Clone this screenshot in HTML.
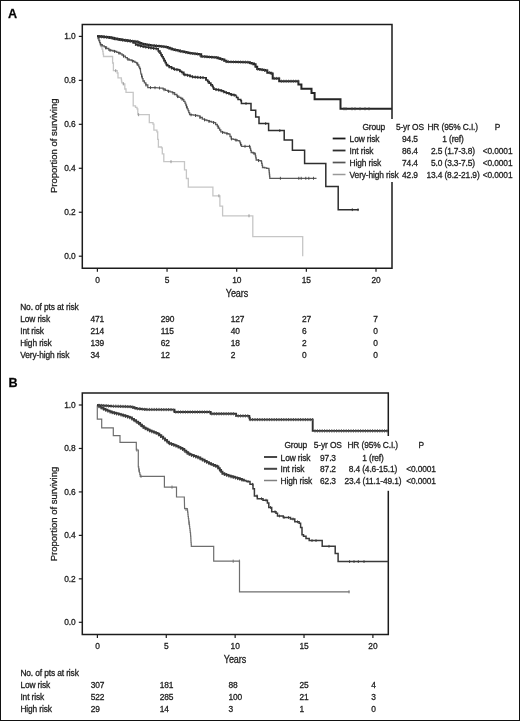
<!DOCTYPE html>
<html><head><meta charset="utf-8"><title>Survival curves</title>
<style>
html,body{margin:0;padding:0;background:#fff;}
.frame{position:relative;width:520px;height:721px;box-sizing:border-box;border:1px solid #111;border-bottom-width:1.5px;overflow:hidden;background:#fff;}
.frame svg{position:absolute;left:-1px;top:-1px;}
</style></head><body><div class="frame">
<svg width="520" height="721" viewBox="0 0 520 721" font-family='"Liberation Sans", Arial, Helvetica, sans-serif' fill="#1a1a1a" stroke-linecap="butt"><style>text{stroke:#222;stroke-width:0.28px;letter-spacing:-0.12px;}</style><text x="8" y="17.6" text-anchor="start" font-size="12.6" font-weight="bold" fill="#000">A</text><text x="8.4" y="386.8" text-anchor="start" font-size="12.6" font-weight="bold" fill="#000">B</text><path d="M82.3,24.5 H392 V268.3 H82.3 Z" fill="none" stroke="#1c1c1c" stroke-width="1.5"/><line x1="78.8" y1="256.2" x2="82.3" y2="256.2" stroke="#1c1c1c" stroke-width="1.2"/><text x="75.6" y="259.2" text-anchor="end" font-size="8.4" >0.0</text><line x1="78.8" y1="212.23999999999998" x2="82.3" y2="212.23999999999998" stroke="#1c1c1c" stroke-width="1.2"/><text x="75.6" y="215.23999999999998" text-anchor="end" font-size="8.4" >0.2</text><line x1="78.8" y1="168.27999999999997" x2="82.3" y2="168.27999999999997" stroke="#1c1c1c" stroke-width="1.2"/><text x="75.6" y="171.27999999999997" text-anchor="end" font-size="8.4" >0.4</text><line x1="78.8" y1="124.32" x2="82.3" y2="124.32" stroke="#1c1c1c" stroke-width="1.2"/><text x="75.6" y="127.32" text-anchor="end" font-size="8.4" >0.6</text><line x1="78.8" y1="80.35999999999996" x2="82.3" y2="80.35999999999996" stroke="#1c1c1c" stroke-width="1.2"/><text x="75.6" y="83.35999999999996" text-anchor="end" font-size="8.4" >0.8</text><line x1="78.8" y1="36.39999999999998" x2="82.3" y2="36.39999999999998" stroke="#1c1c1c" stroke-width="1.2"/><text x="75.6" y="39.39999999999998" text-anchor="end" font-size="8.4" >1.0</text><line x1="97.4" y1="268.3" x2="97.4" y2="271.8" stroke="#1c1c1c" stroke-width="1.2"/><text x="97.4" y="283.3" text-anchor="middle" font-size="8.4" >0</text><line x1="167.05" y1="268.3" x2="167.05" y2="271.8" stroke="#1c1c1c" stroke-width="1.2"/><text x="167.05" y="283.3" text-anchor="middle" font-size="8.4" >5</text><line x1="236.70000000000002" y1="268.3" x2="236.70000000000002" y2="271.8" stroke="#1c1c1c" stroke-width="1.2"/><text x="236.70000000000002" y="283.3" text-anchor="middle" font-size="8.4" >10</text><line x1="306.35" y1="268.3" x2="306.35" y2="271.8" stroke="#1c1c1c" stroke-width="1.2"/><text x="306.35" y="283.3" text-anchor="middle" font-size="8.4" >15</text><line x1="376.0" y1="268.3" x2="376.0" y2="271.8" stroke="#1c1c1c" stroke-width="1.2"/><text x="376.0" y="283.3" text-anchor="middle" font-size="8.4" >20</text><polyline points="97.0,36.3 98.1,36.3 98.1,38.5 98.9,38.5 98.9,40.6 99.7,40.6 99.7,42.7 100.4,42.7 100.4,44.8 101.2,44.8 101.2,46.9 102.0,46.9 102.0,49.2 102.7,49.2 102.7,51.5 103.1,51.5 103.1,54.0 103.5,54.0 103.5,56.5 112.6,56.5 112.6,63.0 113.4,63.0 113.4,70.7 117.2,70.7 117.2,73.0 118.0,73.0 118.0,77.8 121.0,77.8 121.3,77.8 121.3,79.5 121.5,79.5 121.5,81.2 121.8,81.2 121.8,82.9 123.3,82.9 123.3,83.9 124.8,83.9 124.8,84.9 124.8,89.0 126.0,89.0 126.0,92.4 133.2,92.4 133.2,105.8 135.5,105.8 135.5,107.3 137.0,107.3 137.0,108.9 137.8,108.9 137.8,114.7 149.3,114.7 149.3,122.6 153.0,122.6 153.0,124.1 153.9,124.1 153.9,130.2 156.9,130.2 156.9,131.8 157.7,131.8 157.7,139.4 158.4,139.4 158.4,147.0 161.5,147.0 161.5,147.8 162.3,147.8 162.3,153.9 163.8,153.9 163.8,161.7 184.5,161.7 184.5,169.8 186.4,169.8 186.4,178.5 188.3,178.5 188.3,187.1 212.9,187.1 212.9,195.8 219.9,195.8 219.9,206.2 222.6,206.2 222.6,215.8 252.8,215.8 252.8,236.6 302.7,236.6 302.7,256.3" fill="none" stroke="#c6c6c6" stroke-width="1.3" stroke-linejoin="miter" /><line x1="115.7" y1="69.2" x2="115.7" y2="72.2" stroke="#999" stroke-width="1.0"/><line x1="123.3" y1="82.4" x2="123.3" y2="85.4" stroke="#999" stroke-width="1.0"/><line x1="138.6" y1="113.2" x2="138.6" y2="116.2" stroke="#999" stroke-width="1.0"/><line x1="171.0" y1="160.2" x2="171.0" y2="163.2" stroke="#999" stroke-width="1.0"/><line x1="218.9" y1="194.3" x2="218.9" y2="197.3" stroke="#999" stroke-width="1.0"/><line x1="249.0" y1="214.3" x2="249.0" y2="217.3" stroke="#999" stroke-width="1.0"/><polyline points="97.0,36.3 98.1,36.3 98.1,38.5 98.9,38.5 98.9,40.5 99.6,40.5 99.6,42.6 100.4,42.6 100.4,44.6 102.3,44.6 102.3,45.8 104.2,45.8 104.2,46.9 106.5,46.9 106.5,48.5 108.8,48.5 108.8,50.0 110.9,50.0 110.9,50.5 112.9,50.5 112.9,51.0 115.0,51.0 115.0,51.5 116.8,51.5 116.8,52.3 118.6,52.3 118.6,53.0 120.4,53.0 120.4,53.8 122.0,53.8 122.0,55.0 123.5,55.0 123.5,56.2 125.4,56.2 125.4,57.7 127.3,57.7 127.3,59.2 129.4,59.2 129.4,60.0 131.4,60.0 131.4,60.7 133.5,60.7 133.5,61.5 135.0,61.5 135.0,62.3 136.5,62.3 136.5,63.1 137.7,63.1 137.7,65.0 138.8,65.0 138.8,66.9 139.6,66.9 139.6,68.5 140.4,68.5 140.4,70.0 141.0,74.2 141.7,74.2 141.7,76.5 142.3,76.5 142.3,78.7 143.0,78.7 143.0,81.0 144.4,81.0 144.4,82.9 145.8,82.9 145.8,84.8 147.8,84.8 147.8,87.5 155.5,87.7 160.8,88.1 163.1,88.1 163.1,89.2 165.4,89.2 165.4,90.4 167.7,90.4 167.7,91.2 170.0,91.2 170.0,91.9 172.3,91.9 172.3,92.7 174.6,92.7 174.6,94.5 176.9,94.5 176.9,96.2 178.8,96.2 178.8,97.3 180.8,97.3 180.8,98.5 182.7,98.5 182.7,99.6 183.8,99.6 183.8,101.3 185.0,101.3 185.0,103.1 185.8,103.1 185.8,105.0 186.5,105.0 186.5,106.9 187.3,106.9 187.3,108.8 188.1,108.8 188.1,110.7 188.8,110.7 188.8,112.7 189.6,112.7 189.6,114.6 191.6,114.6 191.6,114.9 193.6,114.9 193.6,115.2 195.7,115.2 195.7,115.5 197.7,115.5 197.7,115.8 200.0,115.8 200.0,117.5 202.3,117.5 202.3,119.2 204.6,119.2 204.6,120.0 206.9,120.0 206.9,120.7 209.2,120.7 209.2,121.5 211.5,121.5 211.5,122.1 213.8,122.1 213.8,122.7 215.6,122.7 215.6,124.5 217.3,124.5 217.3,126.2 218.5,126.2 218.5,128.1 219.6,128.1 219.6,130.0 220.8,130.0 220.8,131.9 222.8,131.9 222.8,132.5 224.8,132.5 224.8,133.1 226.8,133.1 226.8,133.6 228.8,133.6 228.8,134.2 230.0,134.2 230.0,136.5 231.2,136.5 231.2,138.8 233.2,138.8 233.2,139.4 235.2,139.4 235.2,140.0 237.2,140.0 237.2,140.6 239.2,140.6 239.2,141.2 240.0,141.2 240.0,142.9 240.7,142.9 240.7,144.6 241.5,144.6 241.5,146.3 249.5,146.3 250.1,146.3 250.1,148.4 250.6,148.4 250.6,150.4 251.2,150.4 251.2,152.5 253.1,152.5 253.1,153.2 255.0,153.2 255.0,153.8 255.4,153.8 255.4,155.9 255.8,155.9 255.8,157.9 256.2,157.9 256.2,160.0 258.7,160.0 258.7,160.7 261.2,160.7 261.2,161.3 261.6,161.3 261.6,163.4 262.1,163.4 262.1,165.4 262.5,165.4 262.5,167.5 264.6,167.5 264.6,167.9 266.7,167.9 266.7,168.4 268.8,168.4 268.8,168.8 269.0,168.8 269.0,170.7 269.2,170.7 269.2,172.6 269.4,172.6 269.4,174.5 269.6,174.5 269.6,176.4 269.8,176.4 269.8,178.3 316.5,178.3" fill="none" stroke="#5a5a5a" stroke-width="1.3" stroke-linejoin="miter" /><line x1="101.0" y1="43.5" x2="101.0" y2="46.5" stroke="#444" stroke-width="0.9"/><line x1="105.5" y1="46.3" x2="105.5" y2="49.3" stroke="#444" stroke-width="0.9"/><line x1="110.0" y1="48.8" x2="110.0" y2="51.8" stroke="#444" stroke-width="0.9"/><line x1="114.5" y1="49.9" x2="114.5" y2="52.9" stroke="#444" stroke-width="0.9"/><line x1="119.0" y1="51.7" x2="119.0" y2="54.7" stroke="#444" stroke-width="0.9"/><line x1="123.5" y1="54.7" x2="123.5" y2="57.7" stroke="#444" stroke-width="0.9"/><line x1="128.0" y1="58.0" x2="128.0" y2="61.0" stroke="#444" stroke-width="0.9"/><line x1="132.5" y1="59.6" x2="132.5" y2="62.6" stroke="#444" stroke-width="0.9"/><line x1="137.0" y1="62.4" x2="137.0" y2="65.4" stroke="#444" stroke-width="0.9"/><line x1="141.5" y1="74.4" x2="141.5" y2="77.4" stroke="#444" stroke-width="0.9"/><line x1="146.0" y1="83.6" x2="146.0" y2="86.6" stroke="#444" stroke-width="0.9"/><line x1="150.5" y1="86.1" x2="150.5" y2="89.1" stroke="#444" stroke-width="0.9"/><line x1="155.0" y1="86.2" x2="155.0" y2="89.2" stroke="#444" stroke-width="0.9"/><line x1="159.5" y1="86.5" x2="159.5" y2="89.5" stroke="#444" stroke-width="0.9"/><line x1="164.0" y1="88.2" x2="164.0" y2="91.2" stroke="#444" stroke-width="0.9"/><line x1="168.5" y1="89.9" x2="168.5" y2="92.9" stroke="#444" stroke-width="0.9"/><line x1="173.0" y1="91.7" x2="173.0" y2="94.7" stroke="#444" stroke-width="0.9"/><line x1="177.5" y1="95.1" x2="177.5" y2="98.1" stroke="#444" stroke-width="0.9"/><line x1="182.0" y1="97.7" x2="182.0" y2="100.7" stroke="#444" stroke-width="0.9"/><line x1="186.5" y1="105.3" x2="186.5" y2="108.3" stroke="#444" stroke-width="0.9"/><line x1="191.0" y1="113.3" x2="191.0" y2="116.3" stroke="#444" stroke-width="0.9"/><line x1="195.5" y1="114.0" x2="195.5" y2="117.0" stroke="#444" stroke-width="0.9"/><line x1="200.0" y1="116.0" x2="200.0" y2="119.0" stroke="#444" stroke-width="0.9"/><line x1="204.5" y1="118.4" x2="204.5" y2="121.4" stroke="#444" stroke-width="0.9"/><line x1="209.0" y1="119.9" x2="209.0" y2="122.9" stroke="#444" stroke-width="0.9"/><line x1="213.5" y1="121.1" x2="213.5" y2="124.1" stroke="#444" stroke-width="0.9"/><line x1="218.0" y1="125.8" x2="218.0" y2="128.8" stroke="#444" stroke-width="0.9"/><line x1="222.5" y1="130.9" x2="222.5" y2="133.9" stroke="#444" stroke-width="0.9"/><line x1="227.0" y1="132.2" x2="227.0" y2="135.2" stroke="#444" stroke-width="0.9"/><line x1="231.5" y1="137.4" x2="231.5" y2="140.4" stroke="#444" stroke-width="0.9"/><line x1="236.0" y1="138.7" x2="236.0" y2="141.7" stroke="#444" stroke-width="0.9"/><line x1="240.5" y1="142.6" x2="240.5" y2="145.6" stroke="#444" stroke-width="0.9"/><line x1="245.0" y1="144.8" x2="245.0" y2="147.8" stroke="#444" stroke-width="0.9"/><line x1="249.5" y1="144.8" x2="249.5" y2="147.8" stroke="#444" stroke-width="0.9"/><line x1="254.0" y1="152.0" x2="254.0" y2="155.0" stroke="#444" stroke-width="0.9"/><line x1="258.5" y1="159.1" x2="258.5" y2="162.1" stroke="#444" stroke-width="0.9"/><line x1="280.4" y1="176.8" x2="280.4" y2="179.8" stroke="#444" stroke-width="0.9"/><line x1="298.8" y1="176.8" x2="298.8" y2="179.8" stroke="#444" stroke-width="0.9"/><line x1="301.2" y1="176.8" x2="301.2" y2="179.8" stroke="#444" stroke-width="0.9"/><line x1="305.8" y1="176.8" x2="305.8" y2="179.8" stroke="#444" stroke-width="0.9"/><line x1="308.8" y1="176.8" x2="308.8" y2="179.8" stroke="#444" stroke-width="0.9"/><line x1="313.5" y1="176.8" x2="313.5" y2="179.8" stroke="#444" stroke-width="0.9"/><polyline points="97.0,36.3 98.8,36.3 98.8,36.4 100.6,36.4 100.6,36.6 102.4,36.6 102.4,36.8 104.2,36.8 104.2,36.9 106.0,36.9 106.0,37.1 107.7,37.1 107.7,37.3 109.5,37.3 109.5,37.5 111.2,37.5 111.2,37.7 113.5,37.7 113.5,38.5 115.3,38.5 115.3,38.8 117.2,38.8 117.2,39.1 119.0,39.1 119.0,39.4 120.9,39.4 120.9,39.7 122.7,39.7 122.7,40.0 124.5,40.0 124.5,40.3 126.4,40.3 126.4,40.6 128.2,40.6 128.2,40.9 130.1,40.9 130.1,41.2 131.9,41.2 131.9,41.5 133.9,41.5 133.9,43.0 135.8,43.0 135.8,44.6 137.6,44.6 137.6,45.1 139.4,45.1 139.4,45.7 141.2,45.7 141.2,46.2 143.1,46.2 143.1,46.6 145.0,46.6 145.0,47.0 146.9,47.0 146.9,47.3 148.8,47.3 148.8,47.7 150.7,47.7 150.7,48.0 152.7,48.0 152.7,48.2 154.6,48.2 154.6,48.5 156.5,48.5 156.5,48.8 158.2,48.8 158.2,51.0 160.0,51.0 160.0,53.1 161.0,53.1 161.0,54.9 162.1,54.9 162.1,56.7 163.1,56.7 163.1,58.5 164.1,58.5 164.1,60.5 165.2,60.5 165.2,62.6 166.2,62.6 166.2,64.6 167.7,64.6 167.7,65.8 169.2,65.8 169.2,66.9 171.5,66.9 171.5,68.1 173.8,68.1 173.8,69.2 176.2,69.2 176.2,69.6 178.5,69.6 178.5,70.0 180.0,70.0 180.0,71.2 181.5,71.2 181.5,72.3 183.8,72.3 183.8,74.6 185.8,74.6 185.8,75.0 187.7,75.0 187.7,75.4 190.0,75.4 190.0,76.2 192.3,76.2 192.3,76.9 198.5,77.4 204.6,77.7 206.2,77.7 206.2,80.0 207.7,80.0 207.7,81.5 209.2,81.5 209.2,83.1 210.8,83.1 210.8,84.7 212.3,84.7 212.3,86.2 213.1,86.2 213.1,87.7 213.8,87.7 213.8,89.2 216.2,89.2 216.2,89.6 218.5,89.6 218.5,90.0 220.0,90.0 220.0,90.4 221.5,90.4 221.5,90.8 223.1,90.8 223.1,91.5 224.6,91.5 224.6,92.3 226.1,92.3 226.1,92.7 227.7,92.7 227.7,93.1 229.2,93.1 229.2,93.8 230.8,93.8 230.8,94.6 233.1,94.6 233.1,95.0 235.4,95.0 235.4,95.4 236.5,95.4" fill="none" stroke="#2e2e2e" stroke-width="1.6" stroke-linejoin="miter" /><line x1="99.0" y1="35.0" x2="99.0" y2="38.0" stroke="#2e2e2e" stroke-width="1.0"/><line x1="101.6" y1="35.2" x2="101.6" y2="38.2" stroke="#2e2e2e" stroke-width="1.0"/><line x1="104.2" y1="35.4" x2="104.2" y2="38.4" stroke="#2e2e2e" stroke-width="1.0"/><line x1="106.8" y1="35.7" x2="106.8" y2="38.7" stroke="#2e2e2e" stroke-width="1.0"/><line x1="109.4" y1="36.0" x2="109.4" y2="39.0" stroke="#2e2e2e" stroke-width="1.0"/><line x1="112.0" y1="36.5" x2="112.0" y2="39.5" stroke="#2e2e2e" stroke-width="1.0"/><line x1="114.6" y1="37.2" x2="114.6" y2="40.2" stroke="#2e2e2e" stroke-width="1.0"/><line x1="117.2" y1="37.6" x2="117.2" y2="40.6" stroke="#2e2e2e" stroke-width="1.0"/><line x1="119.8" y1="38.0" x2="119.8" y2="41.0" stroke="#2e2e2e" stroke-width="1.0"/><line x1="122.4" y1="38.5" x2="122.4" y2="41.5" stroke="#2e2e2e" stroke-width="1.0"/><line x1="125.0" y1="38.9" x2="125.0" y2="41.9" stroke="#2e2e2e" stroke-width="1.0"/><line x1="127.6" y1="39.3" x2="127.6" y2="42.3" stroke="#2e2e2e" stroke-width="1.0"/><line x1="130.2" y1="39.7" x2="130.2" y2="42.7" stroke="#2e2e2e" stroke-width="1.0"/><line x1="132.8" y1="40.7" x2="132.8" y2="43.7" stroke="#2e2e2e" stroke-width="1.0"/><line x1="135.4" y1="42.8" x2="135.4" y2="45.8" stroke="#2e2e2e" stroke-width="1.0"/><line x1="138.0" y1="43.8" x2="138.0" y2="46.8" stroke="#2e2e2e" stroke-width="1.0"/><line x1="140.6" y1="44.5" x2="140.6" y2="47.5" stroke="#2e2e2e" stroke-width="1.0"/><line x1="143.2" y1="45.1" x2="143.2" y2="48.1" stroke="#2e2e2e" stroke-width="1.0"/><line x1="145.8" y1="45.6" x2="145.8" y2="48.6" stroke="#2e2e2e" stroke-width="1.0"/><line x1="148.4" y1="46.1" x2="148.4" y2="49.1" stroke="#2e2e2e" stroke-width="1.0"/><line x1="151.0" y1="46.5" x2="151.0" y2="49.5" stroke="#2e2e2e" stroke-width="1.0"/><line x1="153.6" y1="46.9" x2="153.6" y2="49.9" stroke="#2e2e2e" stroke-width="1.0"/><line x1="156.2" y1="47.3" x2="156.2" y2="50.3" stroke="#2e2e2e" stroke-width="1.0"/><line x1="158.8" y1="50.1" x2="158.8" y2="53.1" stroke="#2e2e2e" stroke-width="1.0"/><line x1="161.4" y1="54.0" x2="161.4" y2="57.0" stroke="#2e2e2e" stroke-width="1.0"/><line x1="164.0" y1="58.8" x2="164.0" y2="61.8" stroke="#2e2e2e" stroke-width="1.0"/><line x1="166.6" y1="63.4" x2="166.6" y2="66.4" stroke="#2e2e2e" stroke-width="1.0"/><line x1="169.2" y1="65.4" x2="169.2" y2="68.4" stroke="#2e2e2e" stroke-width="1.0"/><line x1="171.8" y1="66.7" x2="171.8" y2="69.7" stroke="#2e2e2e" stroke-width="1.0"/><line x1="174.4" y1="67.8" x2="174.4" y2="70.8" stroke="#2e2e2e" stroke-width="1.0"/><line x1="177.0" y1="68.2" x2="177.0" y2="71.2" stroke="#2e2e2e" stroke-width="1.0"/><line x1="179.6" y1="69.3" x2="179.6" y2="72.3" stroke="#2e2e2e" stroke-width="1.0"/><line x1="182.2" y1="71.5" x2="182.2" y2="74.5" stroke="#2e2e2e" stroke-width="1.0"/><line x1="184.8" y1="73.3" x2="184.8" y2="76.3" stroke="#2e2e2e" stroke-width="1.0"/><line x1="187.4" y1="73.8" x2="187.4" y2="76.8" stroke="#2e2e2e" stroke-width="1.0"/><line x1="190.0" y1="74.6" x2="190.0" y2="77.6" stroke="#2e2e2e" stroke-width="1.0"/><line x1="192.6" y1="75.4" x2="192.6" y2="78.4" stroke="#2e2e2e" stroke-width="1.0"/><line x1="195.2" y1="75.6" x2="195.2" y2="78.6" stroke="#2e2e2e" stroke-width="1.0"/><line x1="197.8" y1="75.8" x2="197.8" y2="78.8" stroke="#2e2e2e" stroke-width="1.0"/><line x1="200.4" y1="76.0" x2="200.4" y2="79.0" stroke="#2e2e2e" stroke-width="1.0"/><line x1="203.0" y1="76.1" x2="203.0" y2="79.1" stroke="#2e2e2e" stroke-width="1.0"/><line x1="205.6" y1="77.6" x2="205.6" y2="80.6" stroke="#2e2e2e" stroke-width="1.0"/><line x1="208.2" y1="80.6" x2="208.2" y2="83.6" stroke="#2e2e2e" stroke-width="1.0"/><line x1="210.8" y1="83.2" x2="210.8" y2="86.2" stroke="#2e2e2e" stroke-width="1.0"/><line x1="213.4" y1="86.9" x2="213.4" y2="89.9" stroke="#2e2e2e" stroke-width="1.0"/><line x1="216.0" y1="88.1" x2="216.0" y2="91.1" stroke="#2e2e2e" stroke-width="1.0"/><line x1="218.6" y1="88.5" x2="218.6" y2="91.5" stroke="#2e2e2e" stroke-width="1.0"/><line x1="221.2" y1="89.2" x2="221.2" y2="92.2" stroke="#2e2e2e" stroke-width="1.0"/><line x1="223.8" y1="90.4" x2="223.8" y2="93.4" stroke="#2e2e2e" stroke-width="1.0"/><line x1="226.4" y1="91.3" x2="226.4" y2="94.3" stroke="#2e2e2e" stroke-width="1.0"/><line x1="229.0" y1="92.2" x2="229.0" y2="95.2" stroke="#2e2e2e" stroke-width="1.0"/><line x1="231.6" y1="93.2" x2="231.6" y2="96.2" stroke="#2e2e2e" stroke-width="1.0"/><line x1="234.2" y1="93.7" x2="234.2" y2="96.7" stroke="#2e2e2e" stroke-width="1.0"/><polyline points="236.5,95.4 236.5,97.4 238.0,97.4 238.0,99.4 240.8,99.4 240.8,100.8 241.4,100.8 241.4,103.5 251.0,103.5 251.0,110.2 255.7,110.2 255.7,116.9 259.0,116.9 259.0,123.6 268.6,123.6 268.6,130.6 284.2,130.6 284.2,140.0 292.4,140.0 292.4,150.2 304.6,150.2 304.6,163.5 325.8,163.5 325.8,186.5 338.2,186.5 338.2,209.7 358.8,209.7" fill="none" stroke="#2e2e2e" stroke-width="1.5" stroke-linejoin="miter" /><line x1="246.0" y1="102.1" x2="246.0" y2="104.9" stroke="#2e2e2e" stroke-width="0.9"/><line x1="265.7" y1="122.2" x2="265.7" y2="125.0" stroke="#2e2e2e" stroke-width="0.9"/><line x1="279.8" y1="129.2" x2="279.8" y2="132.0" stroke="#2e2e2e" stroke-width="0.9"/><line x1="352.3" y1="208.3" x2="352.3" y2="211.1" stroke="#2e2e2e" stroke-width="0.9"/><line x1="358.0" y1="208.3" x2="358.0" y2="211.1" stroke="#2e2e2e" stroke-width="0.9"/><polyline points="97.0,36.3 98.8,36.3 98.8,36.4 100.6,36.4 100.6,36.6 102.4,36.6 102.4,36.8 104.2,36.8 104.2,36.9 106.0,36.9 106.0,37.1 107.7,37.1 107.7,37.3 109.5,37.3 109.5,37.5 111.2,37.5 111.2,37.7 113.5,37.7 113.5,38.5 115.3,38.5 115.3,38.8 117.2,38.8 117.2,39.1 119.0,39.1 119.0,39.4 120.9,39.4 120.9,39.7 122.7,39.7 122.7,40.0 124.5,40.0 124.5,40.2 126.4,40.2 126.4,40.4 128.2,40.4 128.2,40.7 130.1,40.7 130.1,40.9 131.9,40.9 131.9,41.1 135.8,41.5 137.6,41.5 137.6,42.3 139.4,42.3 139.4,43.0 141.2,43.0 141.2,43.8 143.0,43.8 143.0,44.1 144.9,44.1 144.9,44.4 146.7,44.4 146.7,44.8 148.6,44.8 148.6,45.1 150.4,45.1 150.4,45.4 152.2,45.4 152.2,45.6 154.1,45.6 154.1,45.7 155.9,45.7 155.9,45.9 157.8,45.9 157.8,46.0 159.6,46.0 159.6,46.2 161.7,46.2 161.7,46.4 163.7,46.4 163.7,46.7 165.8,46.7 165.8,46.9 167.8,46.9 167.8,47.7 169.9,47.7 169.9,48.4 171.9,48.4 171.9,49.2 173.4,49.2 173.4,49.6 175.0,49.6 175.0,50.0 177.5,50.0 177.5,50.6 180.0,50.6 180.0,51.2 182.1,51.2 182.1,51.6 184.2,51.6 184.2,52.0 186.4,52.0 186.4,52.5 188.5,52.5 188.5,52.9 190.6,52.9 190.6,53.3 192.7,53.3 192.7,53.5 194.8,53.5 194.8,53.8 196.9,53.8 196.9,54.0 199.0,54.0 199.0,54.3 201.2,54.3 201.2,56.4 203.3,56.4 203.3,56.6 205.4,56.6 205.4,56.7 207.5,56.7 207.5,56.9 209.7,56.9 209.7,57.0 211.8,57.0 211.8,57.2 213.9,57.2 213.9,57.3 216.0,57.3 216.0,57.5 218.1,57.5 218.1,58.2 220.2,58.2 220.2,58.9 222.3,58.9 222.3,59.6 224.4,59.6 224.4,60.7 226.5,60.7 226.5,61.7 247.7,62.2 249.8,62.2 249.8,62.9 251.9,62.9 251.9,63.6 254.0,63.6 254.0,64.3 255.6,64.3 255.6,66.7 257.2,66.7 257.2,69.1 259.6,69.1 259.6,69.4 262.0,69.4 262.0,69.8 263.5,69.8 263.5,70.1 265.0,70.1 265.0,70.4 267.3,70.4 267.3,72.7 271.2,72.7 271.2,73.5 272.7,73.5 272.7,78.4 279.2,78.4 279.2,81.2 298.4,81.2 298.4,84.4 301.4,84.4 301.4,88.8 311.5,88.8 311.5,92.9 314.6,92.9 314.6,99.3 340.5,99.3 340.5,108.8 392.0,108.8" fill="none" stroke="#252525" stroke-width="2.0" stroke-linejoin="miter" /><line x1="99.0" y1="35.0" x2="99.0" y2="38.0" stroke="#444" stroke-width="0.9"/><line x1="101.4" y1="35.2" x2="101.4" y2="38.2" stroke="#444" stroke-width="0.9"/><line x1="103.8" y1="35.4" x2="103.8" y2="38.4" stroke="#444" stroke-width="0.9"/><line x1="106.2" y1="35.6" x2="106.2" y2="38.6" stroke="#444" stroke-width="0.9"/><line x1="108.6" y1="35.9" x2="108.6" y2="38.9" stroke="#444" stroke-width="0.9"/><line x1="111.0" y1="36.2" x2="111.0" y2="39.2" stroke="#444" stroke-width="0.9"/><line x1="113.4" y1="37.0" x2="113.4" y2="40.0" stroke="#444" stroke-width="0.9"/><line x1="115.8" y1="37.4" x2="115.8" y2="40.4" stroke="#444" stroke-width="0.9"/><line x1="118.2" y1="37.8" x2="118.2" y2="40.8" stroke="#444" stroke-width="0.9"/><line x1="120.6" y1="38.2" x2="120.6" y2="41.2" stroke="#444" stroke-width="0.9"/><line x1="123.0" y1="38.5" x2="123.0" y2="41.5" stroke="#444" stroke-width="0.9"/><line x1="125.4" y1="38.8" x2="125.4" y2="41.8" stroke="#444" stroke-width="0.9"/><line x1="127.8" y1="39.1" x2="127.8" y2="42.1" stroke="#444" stroke-width="0.9"/><line x1="130.2" y1="39.4" x2="130.2" y2="42.4" stroke="#444" stroke-width="0.9"/><line x1="132.6" y1="39.7" x2="132.6" y2="42.7" stroke="#444" stroke-width="0.9"/><line x1="135.0" y1="39.9" x2="135.0" y2="42.9" stroke="#444" stroke-width="0.9"/><line x1="137.4" y1="40.7" x2="137.4" y2="43.7" stroke="#444" stroke-width="0.9"/><line x1="139.8" y1="41.7" x2="139.8" y2="44.7" stroke="#444" stroke-width="0.9"/><line x1="142.2" y1="42.5" x2="142.2" y2="45.5" stroke="#444" stroke-width="0.9"/><line x1="144.6" y1="42.9" x2="144.6" y2="45.9" stroke="#444" stroke-width="0.9"/><line x1="147.0" y1="43.3" x2="147.0" y2="46.3" stroke="#444" stroke-width="0.9"/><line x1="149.4" y1="43.7" x2="149.4" y2="46.7" stroke="#444" stroke-width="0.9"/><line x1="151.8" y1="44.0" x2="151.8" y2="47.0" stroke="#444" stroke-width="0.9"/><line x1="154.2" y1="44.2" x2="154.2" y2="47.2" stroke="#444" stroke-width="0.9"/><line x1="156.6" y1="44.4" x2="156.6" y2="47.4" stroke="#444" stroke-width="0.9"/><line x1="159.0" y1="44.6" x2="159.0" y2="47.6" stroke="#444" stroke-width="0.9"/><line x1="161.4" y1="44.9" x2="161.4" y2="47.9" stroke="#444" stroke-width="0.9"/><line x1="163.8" y1="45.2" x2="163.8" y2="48.2" stroke="#444" stroke-width="0.9"/><line x1="166.2" y1="45.6" x2="166.2" y2="48.6" stroke="#444" stroke-width="0.9"/><line x1="168.6" y1="46.5" x2="168.6" y2="49.5" stroke="#444" stroke-width="0.9"/><line x1="171.0" y1="47.4" x2="171.0" y2="50.4" stroke="#444" stroke-width="0.9"/><line x1="173.4" y1="48.1" x2="173.4" y2="51.1" stroke="#444" stroke-width="0.9"/><line x1="175.8" y1="48.7" x2="175.8" y2="51.7" stroke="#444" stroke-width="0.9"/><line x1="178.2" y1="49.3" x2="178.2" y2="52.3" stroke="#444" stroke-width="0.9"/><line x1="180.6" y1="49.8" x2="180.6" y2="52.8" stroke="#444" stroke-width="0.9"/><line x1="183.0" y1="50.3" x2="183.0" y2="53.3" stroke="#444" stroke-width="0.9"/><line x1="185.4" y1="50.8" x2="185.4" y2="53.8" stroke="#444" stroke-width="0.9"/><line x1="187.8" y1="51.2" x2="187.8" y2="54.2" stroke="#444" stroke-width="0.9"/><line x1="190.2" y1="51.7" x2="190.2" y2="54.7" stroke="#444" stroke-width="0.9"/><line x1="192.6" y1="52.0" x2="192.6" y2="55.0" stroke="#444" stroke-width="0.9"/><line x1="195.0" y1="52.3" x2="195.0" y2="55.3" stroke="#444" stroke-width="0.9"/><line x1="197.4" y1="52.6" x2="197.4" y2="55.6" stroke="#444" stroke-width="0.9"/><line x1="199.8" y1="53.6" x2="199.8" y2="56.6" stroke="#444" stroke-width="0.9"/><line x1="202.2" y1="55.0" x2="202.2" y2="58.0" stroke="#444" stroke-width="0.9"/><line x1="204.6" y1="55.2" x2="204.6" y2="58.2" stroke="#444" stroke-width="0.9"/><line x1="207.0" y1="55.3" x2="207.0" y2="58.3" stroke="#444" stroke-width="0.9"/><line x1="209.4" y1="55.5" x2="209.4" y2="58.5" stroke="#444" stroke-width="0.9"/><line x1="211.8" y1="55.7" x2="211.8" y2="58.7" stroke="#444" stroke-width="0.9"/><line x1="214.2" y1="55.9" x2="214.2" y2="58.9" stroke="#444" stroke-width="0.9"/><line x1="216.6" y1="56.2" x2="216.6" y2="59.2" stroke="#444" stroke-width="0.9"/><line x1="219.0" y1="57.0" x2="219.0" y2="60.0" stroke="#444" stroke-width="0.9"/><line x1="221.4" y1="57.8" x2="221.4" y2="60.8" stroke="#444" stroke-width="0.9"/><line x1="223.8" y1="58.9" x2="223.8" y2="61.9" stroke="#444" stroke-width="0.9"/><line x1="226.2" y1="60.1" x2="226.2" y2="63.1" stroke="#444" stroke-width="0.9"/><line x1="228.6" y1="60.2" x2="228.6" y2="63.2" stroke="#444" stroke-width="0.9"/><line x1="231.0" y1="60.3" x2="231.0" y2="63.3" stroke="#444" stroke-width="0.9"/><line x1="233.4" y1="60.4" x2="233.4" y2="63.4" stroke="#444" stroke-width="0.9"/><line x1="235.8" y1="60.4" x2="235.8" y2="63.4" stroke="#444" stroke-width="0.9"/><line x1="238.2" y1="60.5" x2="238.2" y2="63.5" stroke="#444" stroke-width="0.9"/><line x1="240.6" y1="60.5" x2="240.6" y2="63.5" stroke="#444" stroke-width="0.9"/><line x1="243.0" y1="60.6" x2="243.0" y2="63.6" stroke="#444" stroke-width="0.9"/><line x1="245.4" y1="60.6" x2="245.4" y2="63.6" stroke="#444" stroke-width="0.9"/><line x1="247.8" y1="60.7" x2="247.8" y2="63.7" stroke="#444" stroke-width="0.9"/><line x1="250.2" y1="61.5" x2="250.2" y2="64.5" stroke="#444" stroke-width="0.9"/><line x1="252.6" y1="62.3" x2="252.6" y2="65.3" stroke="#444" stroke-width="0.9"/><line x1="255.0" y1="64.3" x2="255.0" y2="67.3" stroke="#444" stroke-width="0.9"/><line x1="257.4" y1="67.6" x2="257.4" y2="70.6" stroke="#444" stroke-width="0.9"/><line x1="259.8" y1="68.0" x2="259.8" y2="71.0" stroke="#444" stroke-width="0.9"/><line x1="262.2" y1="68.3" x2="262.2" y2="71.3" stroke="#444" stroke-width="0.9"/><line x1="264.6" y1="68.8" x2="264.6" y2="71.8" stroke="#444" stroke-width="0.9"/><line x1="267.0" y1="68.9" x2="267.0" y2="71.9" stroke="#444" stroke-width="0.9"/><line x1="269.4" y1="71.2" x2="269.4" y2="74.2" stroke="#444" stroke-width="0.9"/><line x1="271.8" y1="72.0" x2="271.8" y2="75.0" stroke="#444" stroke-width="0.9"/><line x1="274.2" y1="76.9" x2="274.2" y2="79.9" stroke="#444" stroke-width="0.9"/><line x1="276.6" y1="76.9" x2="276.6" y2="79.9" stroke="#444" stroke-width="0.9"/><line x1="279.0" y1="76.9" x2="279.0" y2="79.9" stroke="#444" stroke-width="0.9"/><line x1="281.4" y1="79.7" x2="281.4" y2="82.7" stroke="#444" stroke-width="0.9"/><line x1="283.8" y1="79.7" x2="283.8" y2="82.7" stroke="#444" stroke-width="0.9"/><line x1="286.2" y1="79.7" x2="286.2" y2="82.7" stroke="#444" stroke-width="0.9"/><line x1="288.6" y1="79.7" x2="288.6" y2="82.7" stroke="#444" stroke-width="0.9"/><line x1="291.0" y1="79.7" x2="291.0" y2="82.7" stroke="#444" stroke-width="0.9"/><line x1="293.4" y1="79.7" x2="293.4" y2="82.7" stroke="#444" stroke-width="0.9"/><line x1="295.8" y1="79.7" x2="295.8" y2="82.7" stroke="#444" stroke-width="0.9"/><line x1="298.2" y1="79.7" x2="298.2" y2="82.7" stroke="#444" stroke-width="0.9"/><line x1="344.0" y1="107.3" x2="344.0" y2="110.3" stroke="#444" stroke-width="0.9"/><line x1="346.0" y1="107.3" x2="346.0" y2="110.3" stroke="#444" stroke-width="0.9"/><line x1="352.0" y1="107.3" x2="352.0" y2="110.3" stroke="#444" stroke-width="0.9"/><line x1="355.0" y1="107.3" x2="355.0" y2="110.3" stroke="#444" stroke-width="0.9"/><line x1="360.0" y1="107.3" x2="360.0" y2="110.3" stroke="#444" stroke-width="0.9"/><line x1="365.0" y1="107.3" x2="365.0" y2="110.3" stroke="#444" stroke-width="0.9"/><line x1="369.0" y1="107.3" x2="369.0" y2="110.3" stroke="#444" stroke-width="0.9"/><text x="0" y="0" text-anchor="middle" font-size="9.5" style="letter-spacing:0" transform="translate(57.1,145.8) rotate(-90)">Proportion of surviving</text><text x="237" y="296.8" text-anchor="middle" font-size="10.4" transform="translate(237,0) scale(0.87,1) translate(-237,0)">Years</text><rect x="330" y="119" width="189" height="63" fill="#fff"/><line x1="332.7" y1="138.5" x2="345.5" y2="138.5" stroke="#1a1a1a" stroke-width="1.8"/><text x="349.6" y="141.5" text-anchor="start" font-size="8.4" >Low risk</text><text x="410" y="141.5" text-anchor="middle" font-size="8.4" >94.5</text><text x="453" y="141.5" text-anchor="middle" font-size="8.4" >1 (ref)</text><line x1="332.7" y1="150.5" x2="345.5" y2="150.5" stroke="#2e2e2e" stroke-width="1.8"/><text x="349.6" y="153.5" text-anchor="start" font-size="8.4" >Int risk</text><text x="410" y="153.5" text-anchor="middle" font-size="8.4" >86.4</text><text x="453" y="153.5" text-anchor="middle" font-size="8.4" >2.5 (1.7-3.8)</text><text x="497.6" y="153.5" text-anchor="middle" font-size="8.4" >&lt;0.0001</text><line x1="332.7" y1="162.5" x2="345.5" y2="162.5" stroke="#555" stroke-width="1.7"/><text x="349.6" y="165.5" text-anchor="start" font-size="8.4" >High risk</text><text x="410" y="165.5" text-anchor="middle" font-size="8.4" >74.4</text><text x="453" y="165.5" text-anchor="middle" font-size="8.4" >5.0 (3.3-7.5)</text><text x="497.6" y="165.5" text-anchor="middle" font-size="8.4" >&lt;0.0001</text><line x1="332.7" y1="174.5" x2="345.5" y2="174.5" stroke="#999" stroke-width="1.5"/><text x="349.6" y="177.5" text-anchor="start" font-size="8.4" >Very-high risk</text><text x="410" y="177.5" text-anchor="middle" font-size="8.4" >42.9</text><text x="453" y="177.5" text-anchor="middle" font-size="8.4" >13.4 (8.2-21.9)</text><text x="497.6" y="177.5" text-anchor="middle" font-size="8.4" >&lt;0.0001</text><text x="373.8" y="129.5" text-anchor="middle" font-size="8.4" >Group</text><text x="409.9" y="129.5" text-anchor="middle" font-size="8.4" >5-yr OS</text><text x="452.7" y="129.5" text-anchor="middle" font-size="8.4" >HR (95% C.I.)</text><text x="497.4" y="129.5" text-anchor="middle" font-size="8.4" >P</text><text x="20.2" y="310" text-anchor="start" font-size="8.4" >No. of pts at risk</text><text x="20.2" y="321.6" text-anchor="start" font-size="8.4" >Low risk</text><text x="90.4" y="321.6" text-anchor="start" font-size="8.4" >471</text><text x="160.8" y="321.6" text-anchor="start" font-size="8.4" >290</text><text x="230.8" y="321.6" text-anchor="start" font-size="8.4" >127</text><text x="302" y="321.6" text-anchor="start" font-size="8.4" >27</text><text x="373.2" y="321.6" text-anchor="start" font-size="8.4" >7</text><text x="20.2" y="333.77000000000004" text-anchor="start" font-size="8.4" >Int risk</text><text x="90.4" y="333.77000000000004" text-anchor="start" font-size="8.4" >214</text><text x="160.8" y="333.77000000000004" text-anchor="start" font-size="8.4" >115</text><text x="230.8" y="333.77000000000004" text-anchor="start" font-size="8.4" >40</text><text x="302" y="333.77000000000004" text-anchor="start" font-size="8.4" >6</text><text x="373.2" y="333.77000000000004" text-anchor="start" font-size="8.4" >0</text><text x="20.2" y="345.94" text-anchor="start" font-size="8.4" >High risk</text><text x="90.4" y="345.94" text-anchor="start" font-size="8.4" >139</text><text x="160.8" y="345.94" text-anchor="start" font-size="8.4" >62</text><text x="230.8" y="345.94" text-anchor="start" font-size="8.4" >18</text><text x="302" y="345.94" text-anchor="start" font-size="8.4" >2</text><text x="373.2" y="345.94" text-anchor="start" font-size="8.4" >0</text><text x="20.2" y="358.11" text-anchor="start" font-size="8.4" >Very-high risk</text><text x="90.4" y="358.11" text-anchor="start" font-size="8.4" >34</text><text x="160.8" y="358.11" text-anchor="start" font-size="8.4" >12</text><text x="230.8" y="358.11" text-anchor="start" font-size="8.4" >2</text><text x="302" y="358.11" text-anchor="start" font-size="8.4" >0</text><text x="373.2" y="358.11" text-anchor="start" font-size="8.4" >0</text><path d="M82.3,393 H388.3 V634.6 H82.3 Z" fill="none" stroke="#1c1c1c" stroke-width="1.5"/><line x1="78.8" y1="622.3" x2="82.3" y2="622.3" stroke="#1c1c1c" stroke-width="1.2"/><text x="75.6" y="625.3" text-anchor="end" font-size="8.4" >0.0</text><line x1="78.8" y1="578.8399999999999" x2="82.3" y2="578.8399999999999" stroke="#1c1c1c" stroke-width="1.2"/><text x="75.6" y="581.8399999999999" text-anchor="end" font-size="8.4" >0.2</text><line x1="78.8" y1="535.3799999999999" x2="82.3" y2="535.3799999999999" stroke="#1c1c1c" stroke-width="1.2"/><text x="75.6" y="538.3799999999999" text-anchor="end" font-size="8.4" >0.4</text><line x1="78.8" y1="491.91999999999996" x2="82.3" y2="491.91999999999996" stroke="#1c1c1c" stroke-width="1.2"/><text x="75.6" y="494.91999999999996" text-anchor="end" font-size="8.4" >0.6</text><line x1="78.8" y1="448.4599999999999" x2="82.3" y2="448.4599999999999" stroke="#1c1c1c" stroke-width="1.2"/><text x="75.6" y="451.4599999999999" text-anchor="end" font-size="8.4" >0.8</text><line x1="78.8" y1="404.99999999999994" x2="82.3" y2="404.99999999999994" stroke="#1c1c1c" stroke-width="1.2"/><text x="75.6" y="407.99999999999994" text-anchor="end" font-size="8.4" >1.0</text><line x1="97.4" y1="634.6" x2="97.4" y2="638.1" stroke="#1c1c1c" stroke-width="1.2"/><text x="97.4" y="648.6" text-anchor="middle" font-size="8.4" >0</text><line x1="166.275" y1="634.6" x2="166.275" y2="638.1" stroke="#1c1c1c" stroke-width="1.2"/><text x="166.275" y="648.6" text-anchor="middle" font-size="8.4" >5</text><line x1="235.15" y1="634.6" x2="235.15" y2="638.1" stroke="#1c1c1c" stroke-width="1.2"/><text x="235.15" y="648.6" text-anchor="middle" font-size="8.4" >10</text><line x1="304.025" y1="634.6" x2="304.025" y2="638.1" stroke="#1c1c1c" stroke-width="1.2"/><text x="304.025" y="648.6" text-anchor="middle" font-size="8.4" >15</text><line x1="372.9" y1="634.6" x2="372.9" y2="638.1" stroke="#1c1c1c" stroke-width="1.2"/><text x="372.9" y="648.6" text-anchor="middle" font-size="8.4" >20</text><polyline points="97.3,405.3 97.3,419.2 101.7,419.2 101.7,427.9 113.3,427.9 113.3,435.6 120.0,435.6 120.0,442.3 136.3,442.3 136.3,450.0 138.3,450.0 138.3,466.9 138.7,466.9 138.7,468.8 139.1,468.8 139.1,470.7 139.4,470.7 139.4,472.5 139.8,472.5 139.8,474.4 140.2,474.4 140.2,476.3 164.4,476.3 164.4,487.1 176.5,487.1 176.5,497.0 184.3,497.0 184.6,508.7 187.3,508.7 187.3,510.0 187.6,510.0 187.6,512.2 187.9,512.2 187.9,514.3 188.1,514.3 188.1,516.5 188.4,516.5 188.4,518.6 188.7,518.6 188.7,520.8 189.0,520.8 189.0,522.7 189.2,522.7 189.2,524.6 189.5,524.6 189.5,526.5 189.7,526.5 189.7,528.5 190.0,528.5 190.0,530.4 190.2,530.4 190.2,532.3 190.5,532.3 190.5,534.2 190.6,534.2 190.6,536.2 190.8,536.2 190.8,538.3 190.9,538.3 190.9,540.3 191.0,540.3 191.0,542.3 191.2,542.3 191.2,544.4 191.3,544.4 191.3,546.4 213.7,546.4 213.7,561.2 239.5,561.2 239.5,591.8 349.6,591.8" fill="none" stroke="#6e6e6e" stroke-width="1.2" stroke-linejoin="miter" /><line x1="136.8" y1="448.4" x2="136.8" y2="451.6" stroke="#6e6e6e" stroke-width="0.9"/><line x1="139.0" y1="468.8" x2="139.0" y2="472.0" stroke="#6e6e6e" stroke-width="0.9"/><line x1="141.0" y1="474.7" x2="141.0" y2="477.9" stroke="#6e6e6e" stroke-width="0.9"/><line x1="172.0" y1="485.5" x2="172.0" y2="488.7" stroke="#6e6e6e" stroke-width="0.9"/><line x1="186.0" y1="507.8" x2="186.0" y2="511.0" stroke="#6e6e6e" stroke-width="0.9"/><line x1="189.0" y1="521.4" x2="189.0" y2="524.6" stroke="#6e6e6e" stroke-width="0.9"/><line x1="233.2" y1="559.6" x2="233.2" y2="562.8" stroke="#6e6e6e" stroke-width="0.9"/><line x1="239.4" y1="559.6" x2="239.4" y2="562.8" stroke="#6e6e6e" stroke-width="0.9"/><line x1="349.0" y1="590.2" x2="349.0" y2="593.4" stroke="#6e6e6e" stroke-width="0.9"/><polyline points="97.0,405.3 99.2,405.3 99.2,406.5 101.3,406.5 101.3,407.8 103.5,407.8 103.5,409.0 105.4,409.0 105.4,409.8 107.3,409.8 107.3,410.6 109.3,410.6 109.3,411.4 111.2,411.4 111.2,412.2 113.1,412.2 113.1,412.7 115.0,412.7 115.0,413.2 117.0,413.2 117.0,413.6 118.9,413.6 118.9,414.1 120.8,414.1 120.8,414.6 122.6,414.6 122.6,415.2 124.4,415.2 124.4,415.8 126.2,415.8 126.2,416.3 128.0,416.3 128.0,416.9 129.8,416.9 129.8,417.5 131.9,417.5 131.9,418.9 134.0,418.9 134.0,420.2 136.1,420.2 136.1,421.6 138.2,421.6 138.2,423.0 140.1,423.0 140.1,424.6 142.0,424.6 142.0,426.2 143.9,426.2 143.9,427.8 145.8,427.8 145.8,428.8 147.8,428.8 147.8,429.7 149.7,429.7 149.7,430.7 151.6,430.7 151.6,431.4 153.6,431.4 153.6,432.1 155.5,432.1 155.5,432.9 157.4,432.9 157.4,433.6 159.3,433.6 159.3,435.2 161.3,435.2 161.3,436.8 163.2,436.8 163.2,438.4 165.1,438.4 165.1,440.0 167.0,440.0 167.0,441.6 168.9,441.6 168.9,443.2 170.8,443.2 170.8,443.9 172.8,443.9 172.8,444.6 174.7,444.6 174.7,445.4 176.6,445.4 176.6,446.1 178.5,446.1 178.5,447.1 180.5,447.1 180.5,448.0 182.4,448.0 182.4,449.0 184.3,449.0 184.3,450.6 186.3,450.6 186.3,452.2 188.2,452.2 188.2,453.8 190.1,453.8 190.1,454.6 192.0,454.6 192.0,455.3 194.0,455.3 194.0,456.0 196.1,456.0 196.1,456.8 198.1,456.8 198.1,457.5 200.3,457.5 200.3,458.7 202.4,458.7 202.4,459.8 204.6,459.8 204.6,461.0 206.7,461.0 206.7,462.1 208.9,462.1 208.9,463.3 210.9,463.3 210.9,464.1 212.9,464.1 212.9,464.9 215.0,464.9 215.0,465.7 217.0,465.7 217.0,466.5 218.4,466.5 218.4,468.2 219.8,468.2 219.8,470.0 221.1,470.0 221.1,471.8 222.5,471.8 222.5,473.5 224.5,473.5 224.5,474.2 226.4,474.2 226.4,474.9 228.4,474.9 228.4,475.6 230.4,475.6 230.4,476.3 232.3,476.3 232.3,476.8 234.2,476.8 234.2,477.4 236.2,477.4 236.2,477.9 238.1,477.9 238.1,478.5 240.0,478.5 240.0,479.0 241.9,479.0 241.9,479.8 243.9,479.8 243.9,480.6 245.8,480.6 245.8,481.4" fill="none" stroke="#3a3a3a" stroke-width="1.9" stroke-linejoin="miter" /><line x1="99.0" y1="404.6" x2="99.0" y2="408.2" stroke="#3a3a3a" stroke-width="1.0"/><line x1="101.2" y1="405.9" x2="101.2" y2="409.5" stroke="#3a3a3a" stroke-width="1.0"/><line x1="103.4" y1="407.1" x2="103.4" y2="410.7" stroke="#3a3a3a" stroke-width="1.0"/><line x1="105.6" y1="408.1" x2="105.6" y2="411.7" stroke="#3a3a3a" stroke-width="1.0"/><line x1="107.8" y1="409.0" x2="107.8" y2="412.6" stroke="#3a3a3a" stroke-width="1.0"/><line x1="110.0" y1="409.9" x2="110.0" y2="413.5" stroke="#3a3a3a" stroke-width="1.0"/><line x1="112.2" y1="410.6" x2="112.2" y2="414.2" stroke="#3a3a3a" stroke-width="1.0"/><line x1="114.4" y1="411.2" x2="114.4" y2="414.8" stroke="#3a3a3a" stroke-width="1.0"/><line x1="116.6" y1="411.8" x2="116.6" y2="415.4" stroke="#3a3a3a" stroke-width="1.0"/><line x1="118.8" y1="412.3" x2="118.8" y2="415.9" stroke="#3a3a3a" stroke-width="1.0"/><line x1="121.0" y1="412.9" x2="121.0" y2="416.5" stroke="#3a3a3a" stroke-width="1.0"/><line x1="123.2" y1="413.6" x2="123.2" y2="417.2" stroke="#3a3a3a" stroke-width="1.0"/><line x1="125.4" y1="414.3" x2="125.4" y2="417.9" stroke="#3a3a3a" stroke-width="1.0"/><line x1="127.6" y1="415.0" x2="127.6" y2="418.6" stroke="#3a3a3a" stroke-width="1.0"/><line x1="129.8" y1="415.7" x2="129.8" y2="419.3" stroke="#3a3a3a" stroke-width="1.0"/><line x1="132.0" y1="417.1" x2="132.0" y2="420.7" stroke="#3a3a3a" stroke-width="1.0"/><line x1="134.2" y1="418.6" x2="134.2" y2="422.2" stroke="#3a3a3a" stroke-width="1.0"/><line x1="136.4" y1="420.0" x2="136.4" y2="423.6" stroke="#3a3a3a" stroke-width="1.0"/><line x1="138.6" y1="421.5" x2="138.6" y2="425.1" stroke="#3a3a3a" stroke-width="1.0"/><line x1="140.8" y1="423.4" x2="140.8" y2="427.0" stroke="#3a3a3a" stroke-width="1.0"/><line x1="143.0" y1="425.2" x2="143.0" y2="428.8" stroke="#3a3a3a" stroke-width="1.0"/><line x1="145.2" y1="426.6" x2="145.2" y2="430.2" stroke="#3a3a3a" stroke-width="1.0"/><line x1="147.4" y1="427.7" x2="147.4" y2="431.3" stroke="#3a3a3a" stroke-width="1.0"/><line x1="149.6" y1="428.8" x2="149.6" y2="432.4" stroke="#3a3a3a" stroke-width="1.0"/><line x1="151.8" y1="429.7" x2="151.8" y2="433.3" stroke="#3a3a3a" stroke-width="1.0"/><line x1="154.0" y1="430.5" x2="154.0" y2="434.1" stroke="#3a3a3a" stroke-width="1.0"/><line x1="156.2" y1="431.3" x2="156.2" y2="434.9" stroke="#3a3a3a" stroke-width="1.0"/><line x1="158.4" y1="432.6" x2="158.4" y2="436.2" stroke="#3a3a3a" stroke-width="1.0"/><line x1="160.6" y1="434.4" x2="160.6" y2="438.0" stroke="#3a3a3a" stroke-width="1.0"/><line x1="162.8" y1="436.3" x2="162.8" y2="439.9" stroke="#3a3a3a" stroke-width="1.0"/><line x1="165.0" y1="438.1" x2="165.0" y2="441.7" stroke="#3a3a3a" stroke-width="1.0"/><line x1="167.2" y1="440.0" x2="167.2" y2="443.6" stroke="#3a3a3a" stroke-width="1.0"/><line x1="169.4" y1="441.6" x2="169.4" y2="445.2" stroke="#3a3a3a" stroke-width="1.0"/><line x1="171.6" y1="442.4" x2="171.6" y2="446.0" stroke="#3a3a3a" stroke-width="1.0"/><line x1="173.8" y1="443.2" x2="173.8" y2="446.8" stroke="#3a3a3a" stroke-width="1.0"/><line x1="176.0" y1="444.1" x2="176.0" y2="447.7" stroke="#3a3a3a" stroke-width="1.0"/><line x1="178.2" y1="445.1" x2="178.2" y2="448.7" stroke="#3a3a3a" stroke-width="1.0"/><line x1="180.4" y1="446.2" x2="180.4" y2="449.8" stroke="#3a3a3a" stroke-width="1.0"/><line x1="182.6" y1="447.4" x2="182.6" y2="451.0" stroke="#3a3a3a" stroke-width="1.0"/><line x1="184.8" y1="449.2" x2="184.8" y2="452.8" stroke="#3a3a3a" stroke-width="1.0"/><line x1="187.0" y1="451.0" x2="187.0" y2="454.6" stroke="#3a3a3a" stroke-width="1.0"/><line x1="189.2" y1="452.4" x2="189.2" y2="456.0" stroke="#3a3a3a" stroke-width="1.0"/><line x1="191.4" y1="453.3" x2="191.4" y2="456.9" stroke="#3a3a3a" stroke-width="1.0"/><line x1="193.6" y1="454.1" x2="193.6" y2="457.7" stroke="#3a3a3a" stroke-width="1.0"/><line x1="195.8" y1="454.9" x2="195.8" y2="458.5" stroke="#3a3a3a" stroke-width="1.0"/><line x1="198.0" y1="455.7" x2="198.0" y2="459.3" stroke="#3a3a3a" stroke-width="1.0"/><line x1="200.2" y1="456.8" x2="200.2" y2="460.4" stroke="#3a3a3a" stroke-width="1.0"/><line x1="202.4" y1="458.0" x2="202.4" y2="461.6" stroke="#3a3a3a" stroke-width="1.0"/><line x1="204.6" y1="459.2" x2="204.6" y2="462.8" stroke="#3a3a3a" stroke-width="1.0"/><line x1="206.8" y1="460.4" x2="206.8" y2="464.0" stroke="#3a3a3a" stroke-width="1.0"/><line x1="209.0" y1="461.5" x2="209.0" y2="465.1" stroke="#3a3a3a" stroke-width="1.0"/><line x1="211.2" y1="462.4" x2="211.2" y2="466.0" stroke="#3a3a3a" stroke-width="1.0"/><line x1="213.4" y1="463.3" x2="213.4" y2="466.9" stroke="#3a3a3a" stroke-width="1.0"/><line x1="215.6" y1="464.1" x2="215.6" y2="467.7" stroke="#3a3a3a" stroke-width="1.0"/><line x1="217.8" y1="465.7" x2="217.8" y2="469.3" stroke="#3a3a3a" stroke-width="1.0"/><line x1="220.0" y1="468.5" x2="220.0" y2="472.1" stroke="#3a3a3a" stroke-width="1.0"/><line x1="222.2" y1="471.3" x2="222.2" y2="474.9" stroke="#3a3a3a" stroke-width="1.0"/><line x1="224.4" y1="472.4" x2="224.4" y2="476.0" stroke="#3a3a3a" stroke-width="1.0"/><line x1="226.6" y1="473.2" x2="226.6" y2="476.8" stroke="#3a3a3a" stroke-width="1.0"/><line x1="228.8" y1="473.9" x2="228.8" y2="477.5" stroke="#3a3a3a" stroke-width="1.0"/><line x1="231.0" y1="474.7" x2="231.0" y2="478.3" stroke="#3a3a3a" stroke-width="1.0"/><line x1="233.2" y1="475.3" x2="233.2" y2="478.9" stroke="#3a3a3a" stroke-width="1.0"/><line x1="235.4" y1="475.9" x2="235.4" y2="479.5" stroke="#3a3a3a" stroke-width="1.0"/><line x1="237.6" y1="476.5" x2="237.6" y2="480.1" stroke="#3a3a3a" stroke-width="1.0"/><line x1="239.8" y1="477.1" x2="239.8" y2="480.7" stroke="#3a3a3a" stroke-width="1.0"/><line x1="242.0" y1="478.0" x2="242.0" y2="481.6" stroke="#3a3a3a" stroke-width="1.0"/><polyline points="245.8,481.4 250.0,481.4 250.0,484.3 253.0,484.3 253.0,488.7 254.4,488.7 254.4,495.9 257.3,495.9 257.3,498.7 263.0,498.7 263.0,500.2 267.4,500.2 267.4,503.0 268.8,503.0 268.8,507.4 271.7,507.4 271.7,511.7 276.0,511.7 276.0,513.2 277.5,513.2 277.5,516.0 283.3,516.0 283.3,517.5 290.5,517.5 290.5,519.0 294.8,519.0 294.8,521.8 299.1,521.8 299.1,523.3 300.6,523.3 300.6,527.6 302.0,527.6 302.0,534.8 303.5,534.8 303.5,536.2 306.0,536.2 306.0,538.5 309.2,538.5 309.2,540.6 322.2,540.6 322.2,546.3 335.2,546.3 335.2,553.6 338.1,553.6 338.1,561.6 388.5,561.6" fill="none" stroke="#3a3a3a" stroke-width="1.5" stroke-linejoin="miter" /><line x1="248.0" y1="480.0" x2="248.0" y2="482.8" stroke="#3a3a3a" stroke-width="0.9"/><line x1="252.5" y1="482.9" x2="252.5" y2="485.7" stroke="#3a3a3a" stroke-width="0.9"/><line x1="257.0" y1="494.5" x2="257.0" y2="497.3" stroke="#3a3a3a" stroke-width="0.9"/><line x1="261.5" y1="497.3" x2="261.5" y2="500.1" stroke="#3a3a3a" stroke-width="0.9"/><line x1="266.0" y1="498.8" x2="266.0" y2="501.6" stroke="#3a3a3a" stroke-width="0.9"/><line x1="270.5" y1="506.0" x2="270.5" y2="508.8" stroke="#3a3a3a" stroke-width="0.9"/><line x1="275.0" y1="510.3" x2="275.0" y2="513.1" stroke="#3a3a3a" stroke-width="0.9"/><line x1="279.5" y1="514.6" x2="279.5" y2="517.4" stroke="#3a3a3a" stroke-width="0.9"/><line x1="284.0" y1="516.1" x2="284.0" y2="518.9" stroke="#3a3a3a" stroke-width="0.9"/><line x1="288.5" y1="516.1" x2="288.5" y2="518.9" stroke="#3a3a3a" stroke-width="0.9"/><line x1="293.0" y1="517.6" x2="293.0" y2="520.4" stroke="#3a3a3a" stroke-width="0.9"/><line x1="297.5" y1="520.4" x2="297.5" y2="523.2" stroke="#3a3a3a" stroke-width="0.9"/><line x1="312.0" y1="539.2" x2="312.0" y2="542.0" stroke="#3a3a3a" stroke-width="0.9"/><line x1="316.0" y1="539.2" x2="316.0" y2="542.0" stroke="#3a3a3a" stroke-width="0.9"/><line x1="329.0" y1="544.9" x2="329.0" y2="547.7" stroke="#3a3a3a" stroke-width="0.9"/><line x1="349.6" y1="560.2" x2="349.6" y2="563.0" stroke="#3a3a3a" stroke-width="0.9"/><line x1="354.0" y1="560.2" x2="354.0" y2="563.0" stroke="#3a3a3a" stroke-width="0.9"/><line x1="358.3" y1="560.2" x2="358.3" y2="563.0" stroke="#3a3a3a" stroke-width="0.9"/><line x1="364.0" y1="560.2" x2="364.0" y2="563.0" stroke="#3a3a3a" stroke-width="0.9"/><polyline points="97.0,405.3 99.0,405.3 99.0,405.4 101.1,405.4 101.1,405.5 103.1,405.5 103.1,405.6 105.1,405.6 105.1,405.8 107.1,405.8 107.1,405.9 109.2,405.9 109.2,406.0 111.2,406.0 111.2,406.1 130.5,406.7 132.4,406.7 132.4,407.3 134.3,407.3 134.3,408.0 136.2,408.0 136.2,408.6 138.1,408.6 138.1,408.8 140.0,408.8 140.0,409.0 142.0,409.0 142.0,409.1 143.9,409.1 143.9,409.3 145.8,409.3 145.8,409.5 173.0,409.6 174.5,409.6 174.5,412.0 192.0,412.0 209.6,412.0 210.7,412.0 210.7,413.8 235.0,413.8 236.1,413.8 236.1,415.9 248.8,415.9 249.3,415.9 249.3,417.8 249.8,417.8 249.8,419.6 312.7,419.6 312.7,430.9 388.0,430.9" fill="none" stroke="#303030" stroke-width="1.9" stroke-linejoin="miter" /><line x1="99.0" y1="403.8" x2="99.0" y2="407.0" stroke="#505050" stroke-width="1.0"/><line x1="101.4" y1="403.9" x2="101.4" y2="407.1" stroke="#505050" stroke-width="1.0"/><line x1="103.8" y1="404.1" x2="103.8" y2="407.3" stroke="#505050" stroke-width="1.0"/><line x1="106.2" y1="404.2" x2="106.2" y2="407.4" stroke="#505050" stroke-width="1.0"/><line x1="108.6" y1="404.4" x2="108.6" y2="407.6" stroke="#505050" stroke-width="1.0"/><line x1="111.0" y1="404.5" x2="111.0" y2="407.7" stroke="#505050" stroke-width="1.0"/><line x1="113.4" y1="404.6" x2="113.4" y2="407.8" stroke="#505050" stroke-width="1.0"/><line x1="115.8" y1="404.6" x2="115.8" y2="407.8" stroke="#505050" stroke-width="1.0"/><line x1="118.2" y1="404.7" x2="118.2" y2="407.9" stroke="#505050" stroke-width="1.0"/><line x1="120.6" y1="404.8" x2="120.6" y2="408.0" stroke="#505050" stroke-width="1.0"/><line x1="123.0" y1="404.9" x2="123.0" y2="408.1" stroke="#505050" stroke-width="1.0"/><line x1="125.4" y1="404.9" x2="125.4" y2="408.1" stroke="#505050" stroke-width="1.0"/><line x1="127.8" y1="405.0" x2="127.8" y2="408.2" stroke="#505050" stroke-width="1.0"/><line x1="130.2" y1="405.1" x2="130.2" y2="408.3" stroke="#505050" stroke-width="1.0"/><line x1="132.6" y1="405.8" x2="132.6" y2="409.0" stroke="#505050" stroke-width="1.0"/><line x1="135.0" y1="406.6" x2="135.0" y2="409.8" stroke="#505050" stroke-width="1.0"/><line x1="137.4" y1="407.1" x2="137.4" y2="410.3" stroke="#505050" stroke-width="1.0"/><line x1="139.8" y1="407.3" x2="139.8" y2="410.5" stroke="#505050" stroke-width="1.0"/><line x1="142.2" y1="407.6" x2="142.2" y2="410.8" stroke="#505050" stroke-width="1.0"/><line x1="144.6" y1="407.8" x2="144.6" y2="411.0" stroke="#505050" stroke-width="1.0"/><line x1="147.0" y1="407.9" x2="147.0" y2="411.1" stroke="#505050" stroke-width="1.0"/><line x1="149.4" y1="407.9" x2="149.4" y2="411.1" stroke="#505050" stroke-width="1.0"/><line x1="151.8" y1="407.9" x2="151.8" y2="411.1" stroke="#505050" stroke-width="1.0"/><line x1="154.2" y1="407.9" x2="154.2" y2="411.1" stroke="#505050" stroke-width="1.0"/><line x1="156.6" y1="407.9" x2="156.6" y2="411.1" stroke="#505050" stroke-width="1.0"/><line x1="159.0" y1="407.9" x2="159.0" y2="411.1" stroke="#505050" stroke-width="1.0"/><line x1="161.4" y1="408.0" x2="161.4" y2="411.2" stroke="#505050" stroke-width="1.0"/><line x1="163.8" y1="408.0" x2="163.8" y2="411.2" stroke="#505050" stroke-width="1.0"/><line x1="166.2" y1="408.0" x2="166.2" y2="411.2" stroke="#505050" stroke-width="1.0"/><line x1="168.6" y1="408.0" x2="168.6" y2="411.2" stroke="#505050" stroke-width="1.0"/><line x1="171.0" y1="408.0" x2="171.0" y2="411.2" stroke="#505050" stroke-width="1.0"/><line x1="173.4" y1="408.6" x2="173.4" y2="411.8" stroke="#505050" stroke-width="1.0"/><line x1="175.8" y1="410.4" x2="175.8" y2="413.6" stroke="#505050" stroke-width="1.0"/><line x1="178.2" y1="410.4" x2="178.2" y2="413.6" stroke="#505050" stroke-width="1.0"/><line x1="180.6" y1="410.4" x2="180.6" y2="413.6" stroke="#505050" stroke-width="1.0"/><line x1="183.0" y1="410.4" x2="183.0" y2="413.6" stroke="#505050" stroke-width="1.0"/><line x1="185.4" y1="410.4" x2="185.4" y2="413.6" stroke="#505050" stroke-width="1.0"/><line x1="187.8" y1="410.4" x2="187.8" y2="413.6" stroke="#505050" stroke-width="1.0"/><line x1="190.2" y1="410.4" x2="190.2" y2="413.6" stroke="#505050" stroke-width="1.0"/><line x1="192.6" y1="410.4" x2="192.6" y2="413.6" stroke="#505050" stroke-width="1.0"/><line x1="195.0" y1="410.4" x2="195.0" y2="413.6" stroke="#505050" stroke-width="1.0"/><line x1="197.4" y1="410.4" x2="197.4" y2="413.6" stroke="#505050" stroke-width="1.0"/><line x1="199.8" y1="410.4" x2="199.8" y2="413.6" stroke="#505050" stroke-width="1.0"/><line x1="202.2" y1="410.4" x2="202.2" y2="413.6" stroke="#505050" stroke-width="1.0"/><line x1="204.6" y1="410.4" x2="204.6" y2="413.6" stroke="#505050" stroke-width="1.0"/><line x1="207.0" y1="410.4" x2="207.0" y2="413.6" stroke="#505050" stroke-width="1.0"/><line x1="209.4" y1="410.4" x2="209.4" y2="413.6" stroke="#505050" stroke-width="1.0"/><line x1="211.8" y1="412.2" x2="211.8" y2="415.4" stroke="#505050" stroke-width="1.0"/><line x1="214.2" y1="412.2" x2="214.2" y2="415.4" stroke="#505050" stroke-width="1.0"/><line x1="216.6" y1="412.2" x2="216.6" y2="415.4" stroke="#505050" stroke-width="1.0"/><line x1="219.0" y1="412.2" x2="219.0" y2="415.4" stroke="#505050" stroke-width="1.0"/><line x1="221.4" y1="412.2" x2="221.4" y2="415.4" stroke="#505050" stroke-width="1.0"/><line x1="223.8" y1="412.2" x2="223.8" y2="415.4" stroke="#505050" stroke-width="1.0"/><line x1="226.2" y1="412.2" x2="226.2" y2="415.4" stroke="#505050" stroke-width="1.0"/><line x1="228.6" y1="412.2" x2="228.6" y2="415.4" stroke="#505050" stroke-width="1.0"/><line x1="231.0" y1="412.2" x2="231.0" y2="415.4" stroke="#505050" stroke-width="1.0"/><line x1="233.4" y1="412.2" x2="233.4" y2="415.4" stroke="#505050" stroke-width="1.0"/><line x1="235.8" y1="413.7" x2="235.8" y2="416.9" stroke="#505050" stroke-width="1.0"/><line x1="238.2" y1="414.3" x2="238.2" y2="417.5" stroke="#505050" stroke-width="1.0"/><line x1="240.6" y1="414.3" x2="240.6" y2="417.5" stroke="#505050" stroke-width="1.0"/><line x1="243.0" y1="414.3" x2="243.0" y2="417.5" stroke="#505050" stroke-width="1.0"/><line x1="245.4" y1="414.3" x2="245.4" y2="417.5" stroke="#505050" stroke-width="1.0"/><line x1="247.8" y1="414.3" x2="247.8" y2="417.5" stroke="#505050" stroke-width="1.0"/><line x1="250.2" y1="418.0" x2="250.2" y2="421.2" stroke="#505050" stroke-width="1.0"/><line x1="252.6" y1="418.0" x2="252.6" y2="421.2" stroke="#505050" stroke-width="1.0"/><line x1="255.0" y1="418.0" x2="255.0" y2="421.2" stroke="#505050" stroke-width="1.0"/><line x1="257.4" y1="418.0" x2="257.4" y2="421.2" stroke="#505050" stroke-width="1.0"/><line x1="259.8" y1="418.0" x2="259.8" y2="421.2" stroke="#505050" stroke-width="1.0"/><line x1="262.2" y1="418.0" x2="262.2" y2="421.2" stroke="#505050" stroke-width="1.0"/><line x1="264.6" y1="418.0" x2="264.6" y2="421.2" stroke="#505050" stroke-width="1.0"/><line x1="267.0" y1="418.0" x2="267.0" y2="421.2" stroke="#505050" stroke-width="1.0"/><line x1="269.4" y1="418.0" x2="269.4" y2="421.2" stroke="#505050" stroke-width="1.0"/><line x1="271.8" y1="418.0" x2="271.8" y2="421.2" stroke="#505050" stroke-width="1.0"/><line x1="274.2" y1="418.0" x2="274.2" y2="421.2" stroke="#505050" stroke-width="1.0"/><line x1="276.6" y1="418.0" x2="276.6" y2="421.2" stroke="#505050" stroke-width="1.0"/><line x1="279.0" y1="418.0" x2="279.0" y2="421.2" stroke="#505050" stroke-width="1.0"/><line x1="281.4" y1="418.0" x2="281.4" y2="421.2" stroke="#505050" stroke-width="1.0"/><line x1="283.8" y1="418.0" x2="283.8" y2="421.2" stroke="#505050" stroke-width="1.0"/><line x1="286.2" y1="418.0" x2="286.2" y2="421.2" stroke="#505050" stroke-width="1.0"/><line x1="288.6" y1="418.0" x2="288.6" y2="421.2" stroke="#505050" stroke-width="1.0"/><line x1="291.0" y1="418.0" x2="291.0" y2="421.2" stroke="#505050" stroke-width="1.0"/><line x1="293.4" y1="418.0" x2="293.4" y2="421.2" stroke="#505050" stroke-width="1.0"/><line x1="295.8" y1="418.0" x2="295.8" y2="421.2" stroke="#505050" stroke-width="1.0"/><line x1="298.2" y1="418.0" x2="298.2" y2="421.2" stroke="#505050" stroke-width="1.0"/><line x1="300.6" y1="418.0" x2="300.6" y2="421.2" stroke="#505050" stroke-width="1.0"/><line x1="303.0" y1="418.0" x2="303.0" y2="421.2" stroke="#505050" stroke-width="1.0"/><line x1="305.4" y1="418.0" x2="305.4" y2="421.2" stroke="#505050" stroke-width="1.0"/><line x1="307.8" y1="418.0" x2="307.8" y2="421.2" stroke="#505050" stroke-width="1.0"/><line x1="310.2" y1="418.0" x2="310.2" y2="421.2" stroke="#505050" stroke-width="1.0"/><line x1="312.6" y1="418.0" x2="312.6" y2="421.2" stroke="#505050" stroke-width="1.0"/><line x1="315.0" y1="429.3" x2="315.0" y2="432.5" stroke="#505050" stroke-width="1.0"/><line x1="317.4" y1="429.3" x2="317.4" y2="432.5" stroke="#505050" stroke-width="1.0"/><line x1="319.8" y1="429.3" x2="319.8" y2="432.5" stroke="#505050" stroke-width="1.0"/><line x1="322.2" y1="429.3" x2="322.2" y2="432.5" stroke="#505050" stroke-width="1.0"/><line x1="324.6" y1="429.3" x2="324.6" y2="432.5" stroke="#505050" stroke-width="1.0"/><line x1="327.0" y1="429.3" x2="327.0" y2="432.5" stroke="#505050" stroke-width="1.0"/><line x1="329.4" y1="429.3" x2="329.4" y2="432.5" stroke="#505050" stroke-width="1.0"/><line x1="331.8" y1="429.3" x2="331.8" y2="432.5" stroke="#505050" stroke-width="1.0"/><line x1="334.2" y1="429.3" x2="334.2" y2="432.5" stroke="#505050" stroke-width="1.0"/><line x1="336.6" y1="429.3" x2="336.6" y2="432.5" stroke="#505050" stroke-width="1.0"/><line x1="339.0" y1="429.3" x2="339.0" y2="432.5" stroke="#505050" stroke-width="1.0"/><line x1="341.4" y1="429.3" x2="341.4" y2="432.5" stroke="#505050" stroke-width="1.0"/><line x1="343.8" y1="429.3" x2="343.8" y2="432.5" stroke="#505050" stroke-width="1.0"/><line x1="346.2" y1="429.3" x2="346.2" y2="432.5" stroke="#505050" stroke-width="1.0"/><line x1="348.6" y1="429.3" x2="348.6" y2="432.5" stroke="#505050" stroke-width="1.0"/><line x1="351.0" y1="429.3" x2="351.0" y2="432.5" stroke="#505050" stroke-width="1.0"/><line x1="353.4" y1="429.3" x2="353.4" y2="432.5" stroke="#505050" stroke-width="1.0"/><line x1="355.8" y1="429.3" x2="355.8" y2="432.5" stroke="#505050" stroke-width="1.0"/><line x1="358.2" y1="429.3" x2="358.2" y2="432.5" stroke="#505050" stroke-width="1.0"/><line x1="360.6" y1="429.3" x2="360.6" y2="432.5" stroke="#505050" stroke-width="1.0"/><line x1="363.0" y1="429.3" x2="363.0" y2="432.5" stroke="#505050" stroke-width="1.0"/><line x1="365.4" y1="429.3" x2="365.4" y2="432.5" stroke="#505050" stroke-width="1.0"/><line x1="367.8" y1="429.3" x2="367.8" y2="432.5" stroke="#505050" stroke-width="1.0"/><line x1="370.2" y1="429.3" x2="370.2" y2="432.5" stroke="#505050" stroke-width="1.0"/><line x1="372.6" y1="429.3" x2="372.6" y2="432.5" stroke="#505050" stroke-width="1.0"/><line x1="375.0" y1="429.3" x2="375.0" y2="432.5" stroke="#505050" stroke-width="1.0"/><line x1="377.4" y1="429.3" x2="377.4" y2="432.5" stroke="#505050" stroke-width="1.0"/><line x1="379.8" y1="429.3" x2="379.8" y2="432.5" stroke="#505050" stroke-width="1.0"/><line x1="382.2" y1="429.3" x2="382.2" y2="432.5" stroke="#505050" stroke-width="1.0"/><line x1="384.6" y1="429.3" x2="384.6" y2="432.5" stroke="#505050" stroke-width="1.0"/><line x1="387.0" y1="429.3" x2="387.0" y2="432.5" stroke="#505050" stroke-width="1.0"/><text x="0" y="0" text-anchor="middle" font-size="9.5" style="letter-spacing:0" transform="translate(57.1,514) rotate(-90)">Proportion of surviving</text><text x="235" y="663" text-anchor="middle" font-size="10.4" transform="translate(235,0) scale(0.87,1) translate(-235,0)">Years</text><rect x="262" y="436" width="180" height="54.8" fill="#fff"/><line x1="264" y1="457.0" x2="277.1" y2="457.0" stroke="#1a1a1a" stroke-width="1.6"/><text x="280.6" y="460.5" text-anchor="start" font-size="8.4" >Low risk</text><text x="328" y="460.5" text-anchor="middle" font-size="8.4" >97.3</text><text x="373" y="460.5" text-anchor="middle" font-size="8.4" >1 (ref)</text><line x1="264" y1="468.8" x2="277.1" y2="468.8" stroke="#444" stroke-width="2.0"/><text x="280.6" y="472.3" text-anchor="start" font-size="8.4" >Int risk</text><text x="328" y="472.3" text-anchor="middle" font-size="8.4" >87.2</text><text x="373" y="472.3" text-anchor="middle" font-size="8.4" >8.4 (4.6-15.1)</text><text x="421" y="472.3" text-anchor="middle" font-size="8.4" >&lt;0.0001</text><line x1="264" y1="480.5" x2="277.1" y2="480.5" stroke="#808080" stroke-width="1.5"/><text x="280.6" y="484" text-anchor="start" font-size="8.4" >High risk</text><text x="328" y="484" text-anchor="middle" font-size="8.4" >62.3</text><text x="373" y="484" text-anchor="middle" font-size="8.4" >23.4 (11.1-49.1)</text><text x="421" y="484" text-anchor="middle" font-size="8.4" >&lt;0.0001</text><text x="295.8" y="448.2" text-anchor="middle" font-size="8.4" >Group</text><text x="327.8" y="448.2" text-anchor="middle" font-size="8.4" >5-yr OS</text><text x="372.7" y="448.2" text-anchor="middle" font-size="8.4" >HR (95% C.I.)</text><text x="421.2" y="448.2" text-anchor="middle" font-size="8.4" >P</text><text x="20.4" y="675.9" text-anchor="start" font-size="8.4" >No. of pts at risk</text><text x="20.4" y="688.0" text-anchor="start" font-size="8.4" >Low risk</text><text x="90.8" y="688.0" text-anchor="start" font-size="8.4" >307</text><text x="159.8" y="688.0" text-anchor="start" font-size="8.4" >181</text><text x="228.5" y="688.0" text-anchor="start" font-size="8.4" >88</text><text x="299.4" y="688.0" text-anchor="start" font-size="8.4" >25</text><text x="371.3" y="688.0" text-anchor="start" font-size="8.4" >4</text><text x="20.4" y="699.95" text-anchor="start" font-size="8.4" >Int risk</text><text x="90.8" y="699.95" text-anchor="start" font-size="8.4" >522</text><text x="159.8" y="699.95" text-anchor="start" font-size="8.4" >285</text><text x="228.5" y="699.95" text-anchor="start" font-size="8.4" >100</text><text x="299.4" y="699.95" text-anchor="start" font-size="8.4" >21</text><text x="371.3" y="699.95" text-anchor="start" font-size="8.4" >3</text><text x="20.4" y="711.9" text-anchor="start" font-size="8.4" >High risk</text><text x="90.8" y="711.9" text-anchor="start" font-size="8.4" >29</text><text x="159.8" y="711.9" text-anchor="start" font-size="8.4" >14</text><text x="228.5" y="711.9" text-anchor="start" font-size="8.4" >3</text><text x="299.4" y="711.9" text-anchor="start" font-size="8.4" >1</text><text x="371.3" y="711.9" text-anchor="start" font-size="8.4" >0</text></svg>
</div></body></html>
